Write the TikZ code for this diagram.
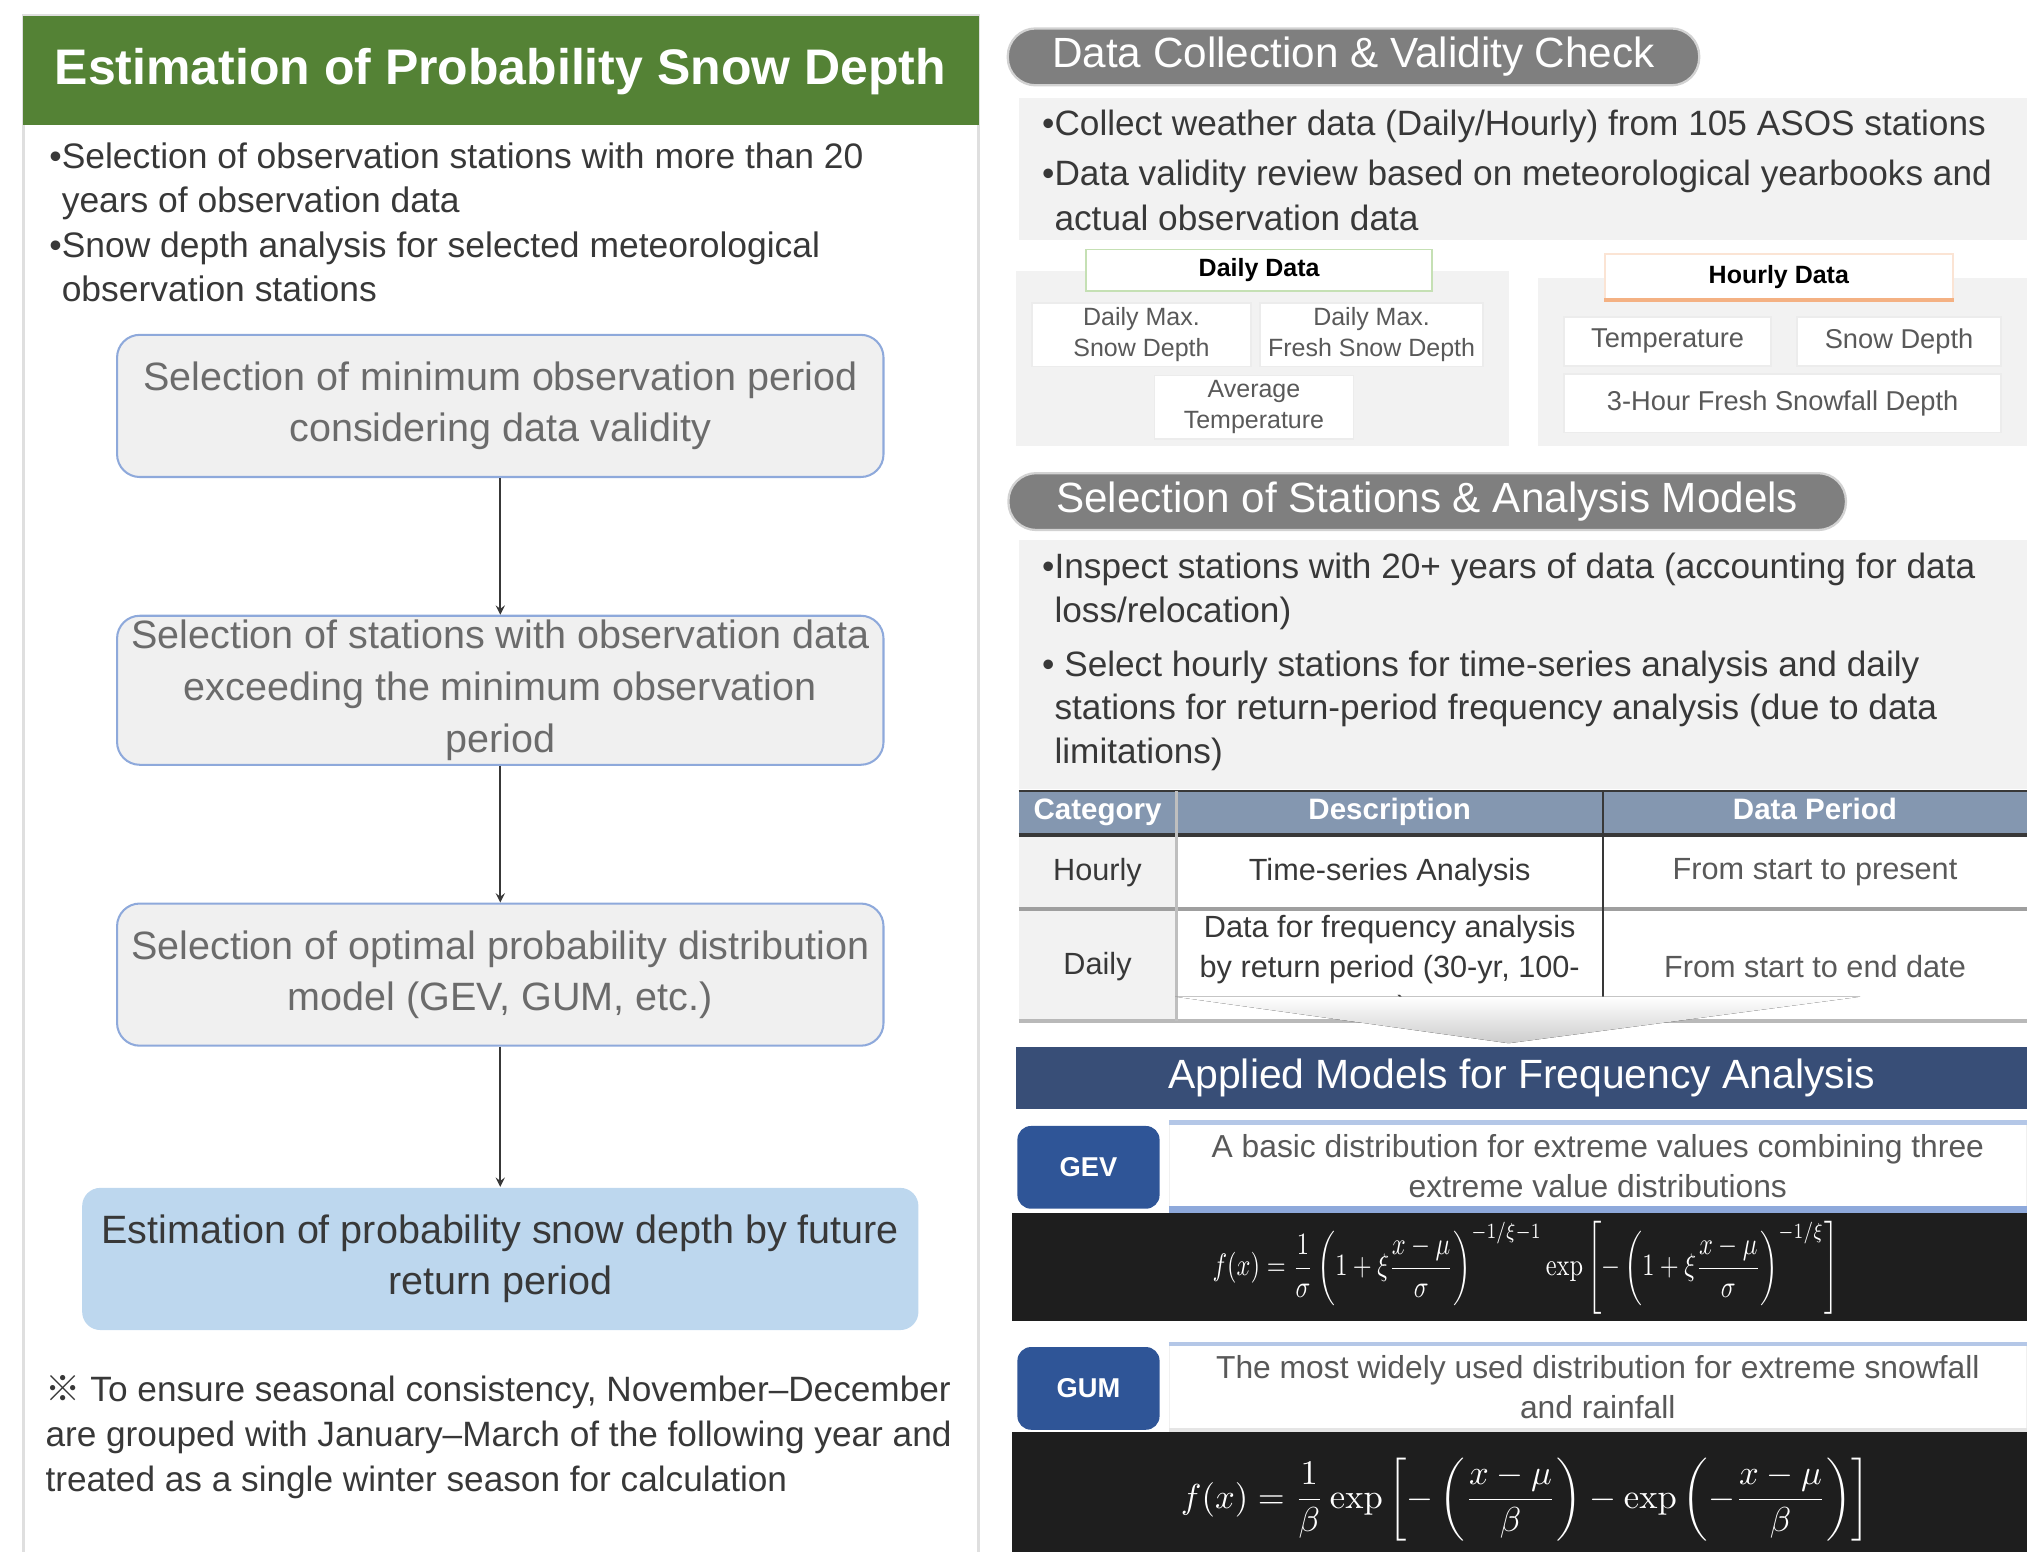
\documentclass[tikz,border=0pt]{standalone}
\usepackage[no-math]{fontspec}
\setmainfont{Liberation Sans}
\newfontfamily\cjk{Noto Sans CJK SC}
\usepackage{graphicx}
\usepackage{tikz}

\definecolor{leafgreen}{HTML}{548235}
\definecolor{paleblue}{HTML}{8EA9DB}
\definecolor{skyfill}{HTML}{BDD7EE}
\definecolor{boxgray}{HTML}{F0F0F0}
\definecolor{panelfill}{HTML}{F2F2F2}
\definecolor{pillgray}{HTML}{7F7F7F}
\definecolor{flowtxt}{HTML}{6B6B6B}
\definecolor{txtgray}{HTML}{595959}
\definecolor{darktxt}{HTML}{383838}
\definecolor{slateblue}{HTML}{8497B0}
\definecolor{navy}{HTML}{384E77}
\definecolor{modelblue}{HTML}{2F5597}
\definecolor{lavender}{HTML}{B4C7E7}
\definecolor{inkblack}{HTML}{1E1E1E}
\definecolor{greenline}{HTML}{C5E0B4}
\definecolor{peach}{HTML}{F4B183}

\newcommand{\setfs}[2]{\fontsize{#1}{#2}\selectfont}

\begin{document}
\begin{tikzpicture}[x=0.02cm, y=-0.02cm, node distance=4.4cm,
    flowbox/.style={rectangle, rounded corners=10pt, draw=paleblue, line width=0.9pt,
        fill=boxgray, minimum width=11.86cm, minimum height=2.2cm, inner sep=2pt,
        align=center, text=flowtxt, font=\setfs{17.4}{22.7}},
    pill/.style={rectangle, rounded corners=0.43cm, fill=pillgray, draw=gray!35,
        line width=1pt, minimum height=0.88cm, text=white, font=\setfs{18.6}{21}},
    itembox/.style={rectangle, fill=white, draw=gray!15, line width=0.8pt, align=center,
        inner sep=1pt, text=txtgray, font=\setfs{11}{13.5}},
    hcell/.style={text=white, text height=1.55ex, text depth=0.45ex, font=\bfseries\setfs{13}{15}},
    bcell/.style={text=darktxt, align=center, font=\setfs{13.5}{17.6}},
    tag/.style={rectangle, rounded corners=6pt, fill=modelblue, minimum width=2.2cm,
        minimum height=1.28cm, text=white, font=\bfseries\setfs{12}{14}},
    descbox/.style={rectangle, fill=white, draw=gray!12, minimum width=13.26cm,
        minimum height=1.32cm, align=center, text=txtgray, font=\setfs{14}{17.5}},
    flow/.style={-stealth, draw=darktxt, line width=0.8pt}]
    \useasboundingbox (0,0) rectangle (1568,1200);

    % left panel
    \draw[gray!25, line width=1.2pt] (18,1215) -- (18,12) -- (757,12) -- (757,1215);
    \fill[leafgreen] (18,12) rectangle (757,97);
    \node[text=white, font=\bfseries\setfs{22}{26}] (title) at (387,55) {Estimation of Probability Snow Depth};
    \node[anchor=west, align=left, text=darktxt, font=\setfs{15.6}{19.5}] (aims) at (32,172)
        {•Selection of observation stations with more than 20\\
         \phantom{•}years of observation data\\
         •Snow depth analysis for selected meteorological\\
         \phantom{•}observation stations};

    \node[flowbox] (b1) at (387,314) {Selection of minimum observation period\\considering data validity};
    \node[flowbox] (b2) [below of=b1] {Selection of stations with observation data\\exceeding the minimum observation\\period};
    \node[flowbox] (b3) [below of=b2] {Selection of optimal probability distribution\\model (GEV, GUM, etc.)};
    \node[flowbox, fill=skyfill, draw=none, minimum width=12.94cm, rounded corners=8pt,
        text=darktxt] (b4) [below of=b3] {Estimation of probability snow depth by future\\return period};
    \draw[flow] (b1) -- (b2);
    \draw[flow] (b2) -- (b3);
    \draw[flow] (b3) -- (b4);

    \node[anchor=west, align=left, text=darktxt, font=\setfs{15.5}{19.8}] (note) at (29,1112)
        {{\cjk ※} To ensure seasonal consistency, November–December\\
         are grouped with January–March of the following year and\\
         treated as a single winter season for calculation};

    % data collection
    \node[pill, minimum width=10.7cm] (p1) at (1047,44) {Data Collection \& Validity Check};
    \fill[panelfill] (788,76) rectangle (1568,186);
    \node[anchor=west, align=left, text=darktxt, font=\setfs{15.5}{20}] (rb1) at (800,132)
        {•Collect weather data (Daily/Hourly) from 105 ASOS stations\\[2pt]
         •Data validity review based on meteorological yearbooks and\\
         \phantom{•}actual observation data};

    \fill[panelfill] (786,210) rectangle (1167,345);
    \node[itembox, draw=greenline, minimum width=5.36cm, minimum height=0.64cm,
        text=black, font=\bfseries\setfs{11}{13}] (dd) at (974,209) {Daily Data};
    \node[itembox, minimum width=3.4cm, minimum height=0.98cm] (dm1) at (883,259) {Daily Max.\\Snow Depth};
    \node[itembox, minimum width=3.46cm, minimum height=0.98cm] (dm2) at (1061,259) {Daily Max.\\Fresh Snow Depth};
    \node[itembox, minimum width=3.08cm, minimum height=0.98cm] (avg) at (970,315) {Average\\Temperature};

    \fill[panelfill] (1190,215) rectangle (1568,345);
    \node[itembox, draw=peach!35, minimum width=5.38cm, minimum height=0.7cm,
        text=black, font=\bfseries\setfs{11}{13}] (hd) at (1376,214) {Hourly Data};
    \draw[peach, line width=2pt] (hd.south west) -- (hd.south east);
    \node[itembox, minimum width=3.2cm, minimum height=0.76cm, font=\setfs{12}{14}] (ht) at (1290,264) {Temperature};
    \node[itembox, minimum width=3.16cm, minimum height=0.76cm, font=\setfs{12}{14}] (hs) at (1469,264) {Snow Depth};
    \node[itembox, minimum width=6.76cm, minimum height=0.9cm, font=\setfs{12}{14}] (hf) at (1379,312) {3-Hour Fresh Snowfall Depth};

    % station selection
    \node[pill, minimum width=12.96cm] (p2) at (1104,388) {Selection of Stations \& Analysis Models};
    \fill[panelfill] (788,418) rectangle (1568,610);
    \node[anchor=west, align=left, text=darktxt, font=\setfs{15.5}{19.3}] (rb2) at (800,512)
        {•Inspect stations with 20+ years of data (accounting for data\\
         \phantom{•}loss/relocation)\\[4.5pt]
         • Select hourly stations for time-series analysis and daily\\
         \phantom{•}stations for return-period frequency analysis (due to data\\
         \phantom{•}limitations)};

    % table
    \fill[slateblue] (788,612) rectangle (1568,646);
    \fill[panelfill] (788,646) rectangle (910,790);
    \draw[darktxt, line width=0.8pt] (788,612) -- (1568,612);
    \draw[darktxt, line width=1.8pt] (788,646) -- (1568,646);
    \draw[gray!75, line width=1.6pt] (788,703) -- (1568,703);
    \draw[gray!55, line width=1.6pt] (788,790) -- (1568,790);
    \draw[darktxt, line width=1pt] (1240,612) -- (1240,780);
    \draw[gray!50, line width=1pt] (910,612) -- (910,790);
    \node[hcell] (hc1) at (849,629) {Category};
    \node[hcell] (hc2) at (1075,629) {Description};
    \node[hcell] (hc3) at (1404,629) {Data Period};
    \node[bcell] (r1c1) at (849,675) {Hourly};
    \node[bcell] (r1c2) at (1075,675) {Time-series Analysis};
    \node[bcell, text=txtgray] (r1c3) at (1404,675) {From start to present};
    \node[bcell] (r2c1) at (849,748) {Daily};
    \begin{scope}
        \clip (912,705) rectangle (1238,771);
        \node[bcell, font=\setfs{13.5}{17.4}] (r2c2) at (1075,750) {Data for frequency analysis\\by return period (30-yr, 100-\\yr)};
    \end{scope}
    \node[bcell, text=txtgray] (r2c3) at (1404,748) {From start to end date};
    \fill[top color=white, bottom color=gray!40] (909,771) -- (1439,771) -- (1167,807) -- cycle;

    % frequency models
    \node[fill=navy, minimum width=15.64cm, minimum height=0.96cm, text=white,
        font=\setfs{18}{21}] (nb) at (1177,834) {Applied Models for Frequency Analysis};

    \node[tag] (gt) at (842,903) {GEV};
    \node[descbox, minimum height=1.34cm] (gd) at (1236,902) {A basic distribution for extreme values combining three\\extreme value distributions};
    \draw[lavender, line width=2pt] (gd.north west) -- (gd.north east);
    \draw[paleblue, line width=3pt] (gd.south west) -- (gd.south east);
    \fill[inkblack] (783,938) rectangle (1568,1022);
    \node[text=white, inner sep=0pt] (gf) at (1180,981) {\resizebox*{9.68cm}{1.44cm}{$\displaystyle f(x)=\frac{1}{\sigma}\left(1+\xi\frac{x-\mu}{\sigma}\right)^{-1/\xi-1}\exp\left[-\left(1+\xi\frac{x-\mu}{\sigma}\right)^{-1/\xi}\right]$}};

    \node[tag] (ut) at (842,1074) {GUM};
    \node[descbox] (ud) at (1236,1073) {The most widely used distribution for extreme snowfall\\and rainfall};
    \draw[lavender, line width=2pt] (ud.north west) -- (ud.north east);
    \draw[gray!20, line width=2pt] (ud.south west) -- (ud.south east);
    \fill[inkblack] (783,1108) rectangle (1568,1205);
    \node[text=white] (uf) at (1180,1160) {\resizebox{10.66cm}{!}{$\displaystyle f(x)=\frac{1}{\beta}\exp\left[-\left(\frac{x-\mu}{\beta}\right)-\exp\left(-\frac{x-\mu}{\beta}\right)\right]$}};
\end{tikzpicture}
\end{document}
